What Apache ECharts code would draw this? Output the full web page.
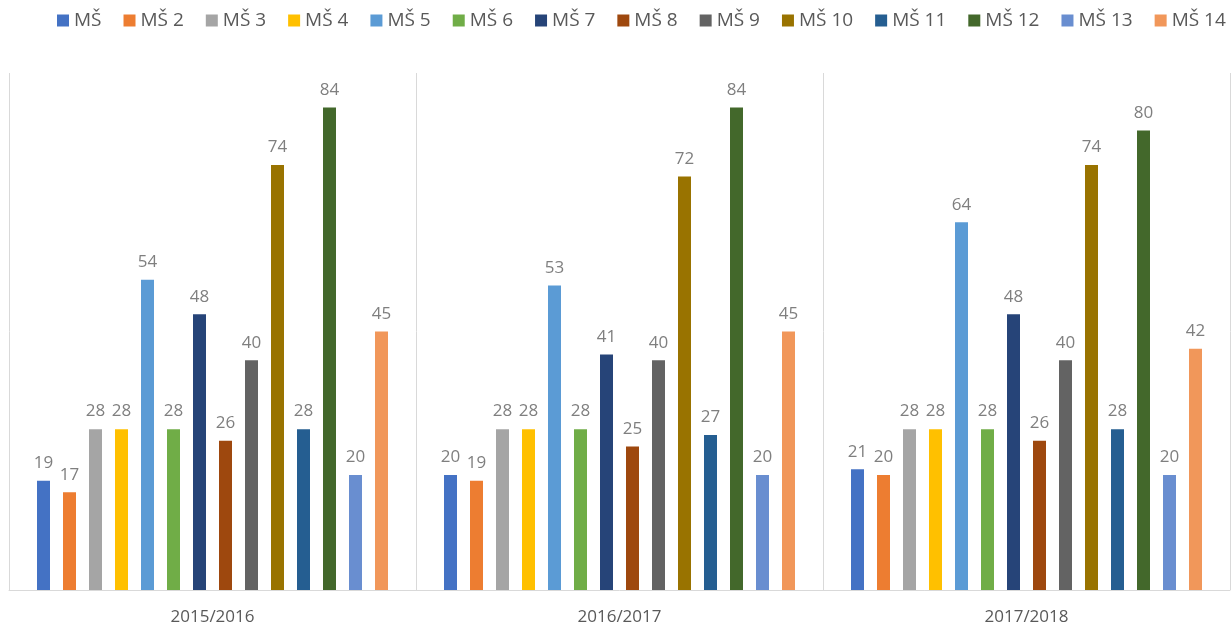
<!DOCTYPE html>
<html>
<head>
<meta charset="utf-8">
<script src="https://cdn.jsdelivr.net/npm/echarts@6/dist/echarts.min.js"></script>
<style>
  html, body { margin: 0; padding: 0; background: #fff; }
  #chart { width: 1231px; height: 628px; }
</style>
</head>
<body>
<div id="chart"></div>
<script>
// kategorie (školní roky)
var years = ['2015/2016', '2016/2017', '2017/2018'];
// názvy škol
var schools = ['MŠ', 'MŠ 2', 'MŠ 3', 'MŠ 4', 'MŠ 5', 'MŠ 6', 'MŠ 7', 'MŠ 8', 'MŠ 9', 'MŠ 10', 'MŠ 11', 'MŠ 12', 'MŠ 13', 'MŠ 14'];
// hodnoty po letech, pořadí jako schools
var vals1516 = [19, 17, 28, 28, 54, 28, 48, 26, 40, 74, 28, 84, 20, 45];
var vals1617 = [20, 19, 28, 28, 53, 28, 41, 25, 40, 72, 27, 84, 20, 45];
var vals1718 = [21, 20, 28, 28, 64, 28, 48, 26, 40, 74, 28, 80, 20, 42];

var colors = ['#4472C4', '#ED7D31', '#A5A5A5', '#FFC000', '#5B9BD5', '#70AD47', '#264478',
              '#9E480E', '#636363', '#997300', '#255E91', '#43682B', '#698ED0', '#F1975A'];

var chart = echarts.init(document.getElementById('chart'));

var series = schools.map(function (name, i) {
    return {
        name: name,
        type: 'bar',
        barWidth: 13,
        barGap: '100%',
        data: [vals1516[i], vals1617[i], vals1718[i]],
        label: {
            show: true,
            position: 'top',
            distance: 9,
            color: '#7F7F7F',
            fontSize: 17,
            fontFamily: 'Open Sans'
        }
    };
});

chart.setOption({
    color: colors,
    animation: false,
    textStyle: { fontFamily: 'Open Sans' },
    legend: {
        top: 6,
        left: 52,
        itemWidth: 12,
        itemHeight: 12,
        itemGap: 22,
        icon: 'rect',
        textStyle: { color: '#595959', fontSize: 19, fontFamily: 'Open Sans' }
    },
    grid: { left: 9, right: 1, top: 73, bottom: 38 },
    xAxis: {
        type: 'category',
        data: years,
        axisLine: { lineStyle: { color: '#D9D9D9', width: 1 } },
        axisTick: { show: false },
        splitLine: { show: true, lineStyle: { color: '#D9D9D9', width: 1 } },
        axisLabel: { color: '#595959', fontSize: 17, margin: 19 }
    },
    yAxis: {
        type: 'value',
        min: 0,
        max: 90,
        show: false,
        splitLine: { show: false }
    },
    series: series
});
</script>
</body>
</html>
